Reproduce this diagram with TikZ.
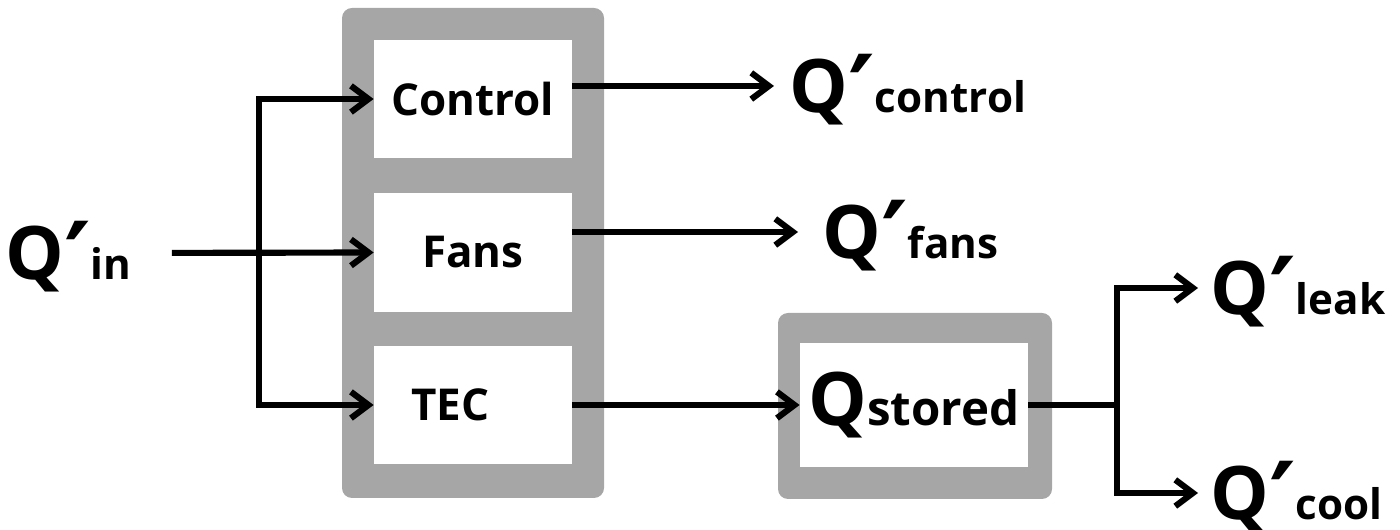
\documentclass[tikz,border=0pt]{standalone}
\usepackage{fontspec}
\setmainfont{Open Sans}
\newfontfamily\primefont{DejaVu Sans}
\usetikzlibrary{positioning}
\usetikzlibrary{arrows.meta}
\definecolor{panelgray}{HTML}{A6A6A6}
\newcommand{\bigq}{\fontsize{42}{42}\selectfont Q}
\newcommand{\qprime}{{\primefont\bfseries\fontsize{58}{58}\selectfont\raisebox{-9pt}{′}}}
\newcommand{\qsub}[1]{{\fontsize{24}{24}\selectfont #1}}
\tikzset{
    panel/.style = {rectangle, rounded corners=0.2cm, fill=panelgray, draw=none},
    cell/.style = {rectangle, fill=white, draw=none, minimum width=3.96cm, minimum height=2.36cm, font=\bfseries\fontsize{25}{25}\selectfont},
    qlabel/.style = {anchor=west, inner sep=0pt, text height=30pt, text depth=0pt, font=\bfseries},
    wire/.style = {line width=3.5pt, draw=black},
    flow/.style = {wire, -{Straight Barb[length=10pt,width=15pt]}},
}
\begin{document}
\begin{tikzpicture}
\useasboundingbox (0,0) rectangle (28,10.6);
\node[panel, minimum width=5.24cm, minimum height=9.8cm] at (9.46,5.54) (ctlpanel) {};
\node[panel, minimum width=5.48cm, minimum height=3.72cm] at (18.30,2.48) (storepanel) {};
\node[cell] at (9.46,8.62) (ctl) {Control};
\node[cell, minimum height=2.38cm] at (9.46,5.55) (fans) {Fans};
\node[cell] at (9.46,2.50) (tec) {TEC\hspace*{0.9cm}};
\node[cell, minimum width=4.56cm, minimum height=2.48cm] at (18.28,2.50) (stored) {\bigq{\fontsize{27}{27}\selectfont stored}};
%
\node[qlabel] at (0.10,5.54) (qin) {\bigq\qprime\qsub{in}};
\node[qlabel] at (15.78,8.88) (qctl) {\bigq\qprime\qsub{control}};
\node[qlabel] at (16.44,5.96) (qfans) {\bigq\qprime\qsub{fans}};
\node[qlabel] at (24.20,4.84) (qleak) {\bigq\qprime\qsub{leak}};
\node[qlabel] at (24.20,0.74) (qcool) {\bigq\qprime\qsub{cool}};
\coordinate (split) at (5.18,5.54);
\coordinate (fork) at (22.34,2.50);
%
\draw[flow, shorten <=0.8cm] (qin.east) -- (fans.west);
\draw[flow] (split) |- (ctl.west);
\draw[flow] (split) |- (tec.west);
\draw[flow, shorten >=0.3cm] (ctl.east |- qctl.west) -- (qctl.west);
\draw[flow, shorten >=0.48cm] (fans.east |- qfans.west) -- (qfans.west);
\draw[flow] (tec.east) -- (stored.west);
\draw[wire] (stored.east) -- (fork);
\draw[flow, shorten >=0.24cm] (fork) |- (qleak.west);
\draw[flow, shorten >=0.24cm] (fork) |- (qcool.west);
\end{tikzpicture}
\end{document}
